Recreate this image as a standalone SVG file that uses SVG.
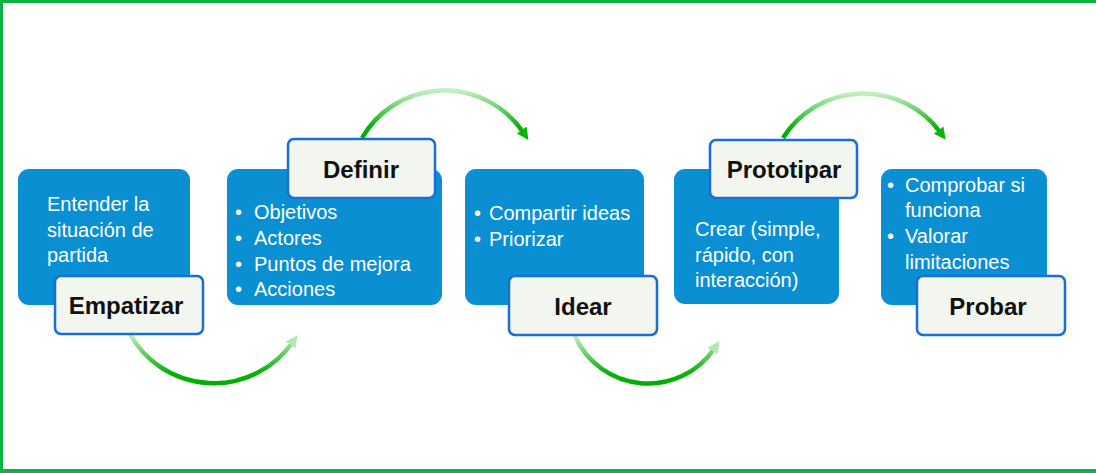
<svg xmlns="http://www.w3.org/2000/svg" width="1096" height="473" viewBox="0 0 1096 473">
<style>
.frame{fill:#0ab444}
.box{fill:#0a8fd3}
.lab{fill:#f3f6ee;stroke:#1a6fd6;stroke-width:2.5}
.lt{font-family:"Liberation Sans",Arial,sans-serif;font-weight:bold;font-size:24px;fill:#111;text-anchor:middle}
.bt{font-family:"Liberation Sans",Arial,sans-serif;font-size:20px;fill:#fff}
.arc{fill:none;stroke:url(#g);stroke-width:4.5}
</style>
<defs>
<linearGradient id="g" x1="0" y1="0" x2="0" y2="1">
<stop offset="0" stop-color="#c4efc4"/>
<stop offset="0.75" stop-color="#0db30d"/>
<stop offset="1" stop-color="#00ad00"/>
</linearGradient>
<marker id="ad" viewBox="0 0 10 10" refX="2" refY="5" markerWidth="12" markerHeight="12" markerUnits="userSpaceOnUse" orient="auto">
<path d="M0,0 L10,5 L0,10 z" fill="#0db30d"/>
</marker>
<marker id="al" viewBox="0 0 10 10" refX="2" refY="5" markerWidth="12" markerHeight="12" markerUnits="userSpaceOnUse" orient="auto">
<path d="M0,0 L10,5 L0,10 z" fill="#b0e9b0"/>
</marker>
</defs>
<rect width="1096" height="473" fill="#fff"/>
<rect class="frame" x="0" y="0" width="1096" height="3"/>
<rect class="frame" x="0" y="0" width="3" height="473"/>
<rect class="frame" x="0" y="469" width="1096" height="4"/>
<g id="connectors">
<path class="arc" d="M130 334 A96 96 0 0 0 292 343" marker-end="url(#al)"/>
<path class="arc" d="M362 138 A95 95 0 0 1 523 132" marker-end="url(#ad)"/>
<path class="arc" d="M575 336 A80 80 0 0 0 714 349" marker-end="url(#al)"/>
<path class="arc" d="M783 138 A95 95 0 0 1 940 132" marker-end="url(#ad)"/>
</g>
<g id="empatizar">
<rect class="box" x="18" y="169" width="172" height="136" rx="11"/>
<text class="bt" x="47" y="211">Entender la</text>
<text class="bt" x="47" y="237">situación de</text>
<text class="bt" x="47" y="262">partida</text>
<rect class="lab" x="55" y="276" width="148" height="58" rx="6"/>
<text class="lt" x="126" y="314">Empatizar</text>
</g>
<g id="definir">
<rect class="box" x="227" y="169" width="215" height="136" rx="11"/>
<text class="bt" x="235" y="219">•</text>
<text class="bt" x="254" y="219">Objetivos</text>
<text class="bt" x="235" y="245">•</text>
<text class="bt" x="254" y="245">Actores</text>
<text class="bt" x="235" y="271">•</text>
<text class="bt" x="254" y="271">Puntos de mejora</text>
<text class="bt" x="235" y="296">•</text>
<text class="bt" x="254" y="296">Acciones</text>
<rect class="lab" x="288" y="139" width="147" height="59" rx="6"/>
<text class="lt" x="361" y="178">Definir</text>
</g>
<g id="idear">
<rect class="box" x="465" y="169" width="179" height="136" rx="11"/>
<text class="bt" x="474" y="220">•</text>
<text class="bt" x="489" y="220">Compartir ideas</text>
<text class="bt" x="474" y="246">•</text>
<text class="bt" x="489" y="246">Priorizar</text>
<rect class="lab" x="509" y="276" width="148" height="59" rx="6"/>
<text class="lt" x="583" y="315">Idear</text>
</g>
<g id="prototipar">
<rect class="box" x="674" y="169" width="165" height="135" rx="11"/>
<text class="bt" x="695" y="236">Crear (simple,</text>
<text class="bt" x="695" y="262">rápido, con</text>
<text class="bt" x="695" y="287">interacción)</text>
<rect class="lab" x="710" y="140" width="147" height="58" rx="6"/>
<text class="lt" x="784" y="178">Prototipar</text>
</g>
<g id="probar">
<rect class="box" x="881" y="169" width="166" height="136" rx="11"/>
<text class="bt" x="887" y="192">•</text>
<text class="bt" x="905" y="192">Comprobar si</text>
<text class="bt" x="905" y="217">funciona</text>
<text class="bt" x="887" y="243">•</text>
<text class="bt" x="905" y="243">Valorar</text>
<text class="bt" x="905" y="269">limitaciones</text>
<rect class="lab" x="917" y="276" width="148" height="59" rx="6"/>
<text class="lt" x="988" y="315">Probar</text>
</g>
</svg>
